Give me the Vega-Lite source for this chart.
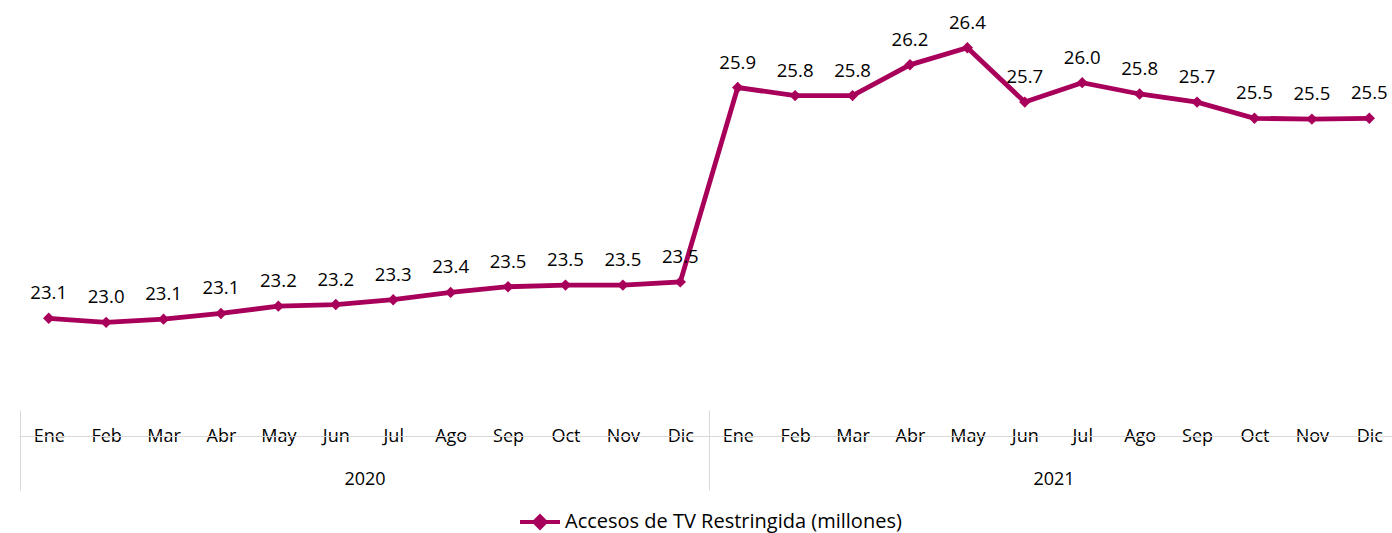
{
  "$schema": "https://vega.github.io/schema/vega-lite/v6.json",
  "width": 1372,
  "height": 403,
  "autosize": {"type": "none"},
  "padding": {"left": 20, "top": 7, "right": 0, "bottom": 123},
  "background": "white",
  "config": {"font": "Open Sans", "view": {"stroke": null}},
  "data": {
    "values": [
      {"p": "Ene 2020", "anio": "2020", "v": 23.07, "serie": "Accesos de TV Restringida (millones)"},
      {"p": "Feb 2020", "anio": "2020", "v": 23.02, "serie": "Accesos de TV Restringida (millones)"},
      {"p": "Mar 2020", "anio": "2020", "v": 23.06, "serie": "Accesos de TV Restringida (millones)"},
      {"p": "Abr 2020", "anio": "2020", "v": 23.13, "serie": "Accesos de TV Restringida (millones)"},
      {"p": "May 2020", "anio": "2020", "v": 23.22, "serie": "Accesos de TV Restringida (millones)"},
      {"p": "Jun 2020", "anio": "2020", "v": 23.24, "serie": "Accesos de TV Restringida (millones)"},
      {"p": "Jul 2020", "anio": "2020", "v": 23.30, "serie": "Accesos de TV Restringida (millones)"},
      {"p": "Ago 2020", "anio": "2020", "v": 23.39, "serie": "Accesos de TV Restringida (millones)"},
      {"p": "Sep 2020", "anio": "2020", "v": 23.46, "serie": "Accesos de TV Restringida (millones)"},
      {"p": "Oct 2020", "anio": "2020", "v": 23.48, "serie": "Accesos de TV Restringida (millones)"},
      {"p": "Nov 2020", "anio": "2020", "v": 23.48, "serie": "Accesos de TV Restringida (millones)"},
      {"p": "Dic 2020", "anio": "2020", "v": 23.52, "serie": "Accesos de TV Restringida (millones)"},
      {"p": "Ene 2021", "anio": "2021", "v": 25.92, "serie": "Accesos de TV Restringida (millones)"},
      {"p": "Feb 2021", "anio": "2021", "v": 25.82, "serie": "Accesos de TV Restringida (millones)"},
      {"p": "Mar 2021", "anio": "2021", "v": 25.82, "serie": "Accesos de TV Restringida (millones)"},
      {"p": "Abr 2021", "anio": "2021", "v": 26.20, "serie": "Accesos de TV Restringida (millones)"},
      {"p": "May 2021", "anio": "2021", "v": 26.41, "serie": "Accesos de TV Restringida (millones)"},
      {"p": "Jun 2021", "anio": "2021", "v": 25.74, "serie": "Accesos de TV Restringida (millones)"},
      {"p": "Jul 2021", "anio": "2021", "v": 25.98, "serie": "Accesos de TV Restringida (millones)"},
      {"p": "Ago 2021", "anio": "2021", "v": 25.84, "serie": "Accesos de TV Restringida (millones)"},
      {"p": "Sep 2021", "anio": "2021", "v": 25.74, "serie": "Accesos de TV Restringida (millones)"},
      {"p": "Oct 2021", "anio": "2021", "v": 25.54, "serie": "Accesos de TV Restringida (millones)"},
      {"p": "Nov 2021", "anio": "2021", "v": 25.53, "serie": "Accesos de TV Restringida (millones)"},
      {"p": "Dic 2021", "anio": "2021", "v": 25.54, "serie": "Accesos de TV Restringida (millones)"}
    ]
  },
  "layer": [
    {
      "layer": [
        {
          "mark": {"type": "line", "strokeWidth": 4.8, "point": {"shape": "diamond", "size": 130, "filled": true}},
          "encoding": {
            "x": {
              "field": "p", "type": "nominal", "sort": null,
              "scale": {"range": [0, 1378]},
              "axis": {
                "title": null, "orient": "bottom", "offset": 26, "domain": true, "domainColor": "#d9d9d9", "domainWidth": 1,
                "ticks": false, "tickSize": 0, "labelPadding": 0, "labelBaseline": "middle", "labelFontSize": 18,
                "labelColor": "#000", "labelAngle": 0, "grid": false, "labelExpr": "split(datum.label, ' ')[0]"
              }
            },
            "y": {
              "field": "v", "type": "quantitative",
              "scale": {"domain": [21.938, 26.914], "zero": false, "nice": false},
              "axis": null
            },
            "color": {
              "field": "serie", "type": "nominal",
              "scale": {"range": ["#A8005A"]},
              "legend": {
                "orient": "none", "legendX": 498, "legendY": 493, "title": null, "direction": "horizontal", "padding": 0,
                "symbolType": "M-1,0H1M-0.28,0L0,-0.28L0.28,0L0,0.28Z", "symbolSize": 1600, "symbolStrokeWidth": 4,
                "labelFontSize": 20, "labelColor": "#000", "labelOffset": 3, "labelLimit": 0,
                "encode": {"symbols": {"update": {"fill": {"value": "#A8005A"}, "stroke": {"value": "#A8005A"}, "strokeWidth": {"value": 4}}}}
              }
            }
          }
        },
        {
          "mark": {"type": "text", "fontSize": 18.6, "dy": -25, "color": "#000", "baseline": "middle"},
          "encoding": {
            "x": {"field": "p", "type": "nominal", "sort": null},
            "y": {"field": "v", "type": "quantitative"},
            "text": {"field": "v", "type": "quantitative", "format": ".1f"}
          }
        }
      ]
    },
    {
      "mark": {"type": "point", "opacity": 0},
      "encoding": {
        "x": {
          "field": "anio", "type": "nominal", "sort": null,
          "scale": {"type": "band", "range": [0, 1378], "paddingInner": 0, "paddingOuter": 0},
          "axis": {
            "title": null, "orient": "bottom", "offset": 0, "domain": false, "ticks": true, "tickBand": "extent",
            "tickSize": 80, "tickColor": "#d9d9d9", "tickWidth": 1, "labelPadding": -11, "labelBaseline": "middle",
            "labelFontSize": 18, "labelColor": "#000", "labelAngle": 0, "grid": false
          }
        }
      }
    }
  ],
  "resolve": {"scale": {"x": "independent"}}
}
